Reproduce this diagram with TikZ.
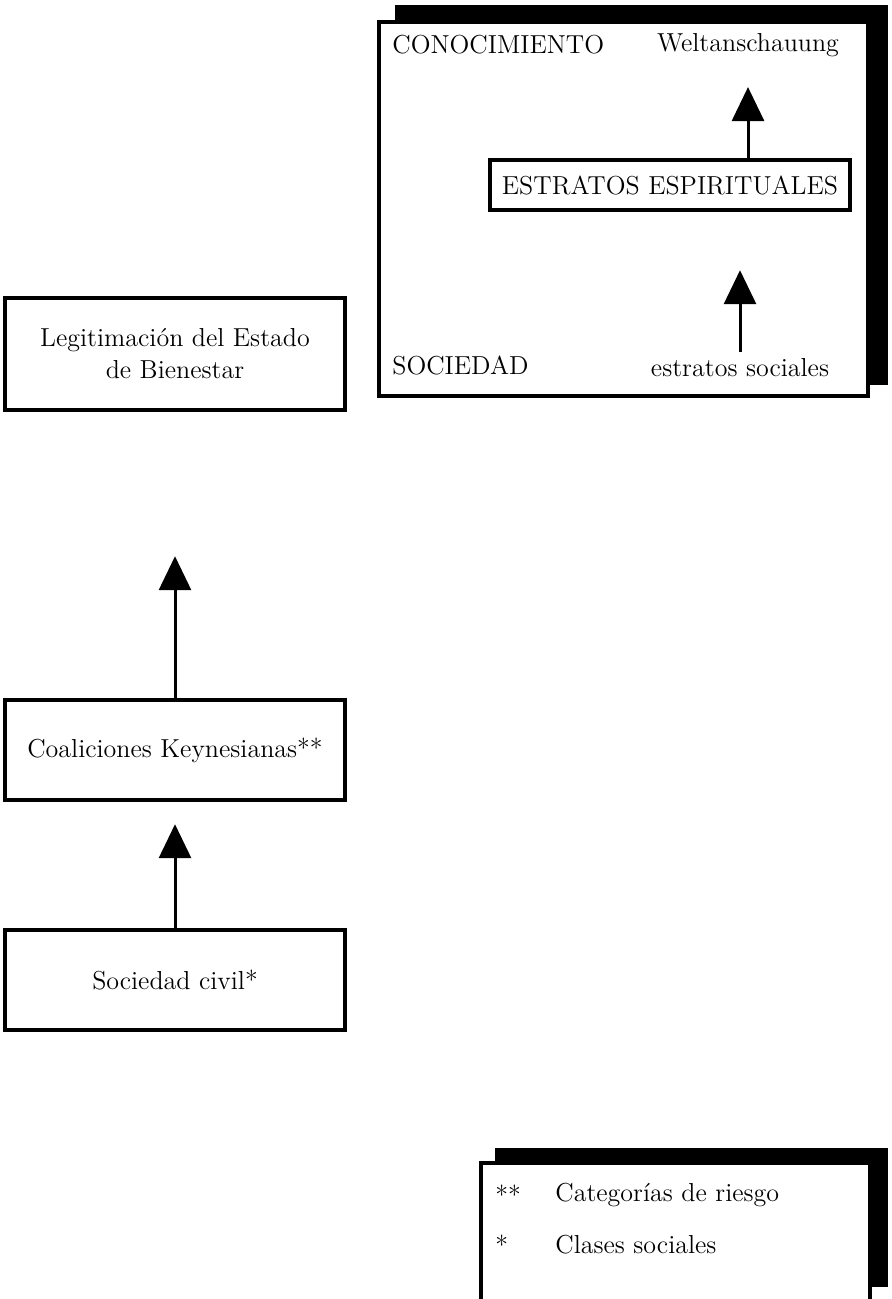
\documentclass[tikz,border=0pt]{standalone}
\usetikzlibrary{arrows.meta}
\begin{document}
\begin{tikzpicture}[x=0.5pt,y=-0.5pt,
  lbl/.style={font=\fontsize{13}{15.5}\selectfont, inner sep=0pt},
  flowbox/.style={draw, line width=2.2pt, fill=white, minimum width=170pt, inner sep=0pt, align=center, font=\fontsize{13}{16}\selectfont},
  uparrow/.style={line width=1.5pt, -{Triangle[width=16pt,length=17pt]}},
  shadow/.style={fill=black},
  panel/.style={draw, line width=2.2pt, fill=white}]
\useasboundingbox (0,0) rectangle (891,1299);
% top panel
\fill[shadow] (395,5) rectangle (888,385);
\filldraw[panel] (379,22) rectangle (868,396);
\node[lbl, anchor=west] (con) at (392,45) {CONOCIMIENTO};
\node[lbl] (welt) at (748,45) {Weltanschauung};
\node[lbl, anchor=west] (soc) at (392,365) {SOCIEDAD};
\node[lbl] (estsoc) at (740,368) {estratos sociales};
\node[flowbox, minimum width=180pt, minimum height=25pt] (estr) at (670,185) {ESTRATOS ESPIRITUALES};
\draw[uparrow, shorten >=15pt] (estr.north -| welt) -- (welt.south);
\draw[uparrow, shorten <=3pt, shorten >=29pt] (estsoc.north) -- (estsoc.north |- estr.south);
% left chain
\node[flowbox, minimum height=56pt] (legit) at (175,354) {Legitimación del Estado\\de Bienestar};
\node[flowbox, minimum height=50pt] (coal) at (175,750) {Coaliciones Keynesianas**};
\node[flowbox, minimum height=50pt] (civ) at (175,980) {Sociedad civil*};
\draw[uparrow, shorten >=72pt] (coal.north) -- (legit.south);
\draw[uparrow, shorten >=11pt] (civ.north) -- (coal.south);
% legend
\fill[shadow] (495,1148) rectangle (888,1287);
\filldraw[panel] (481,1163) rectangle (870,1320);
\node[lbl, anchor=west] (s2) at (495,1195) {**};
\node[lbl, anchor=west] (l2) at (555,1195) {Categorías de riesgo};
\node[lbl, anchor=west] (s1) at (495,1245) {*};
\node[lbl, anchor=west] (l1) at (555,1245) {Clases sociales};
\end{tikzpicture}
\end{document}
